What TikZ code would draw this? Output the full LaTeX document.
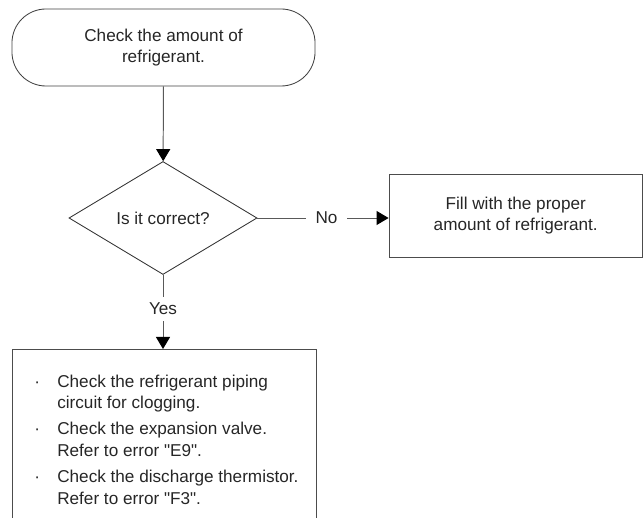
\documentclass[tikz,border=0pt]{standalone}
\usepackage{fontspec}
\setmainfont{Liberation Sans}[Ligatures=TeXOff]
\usetikzlibrary{shapes.geometric,arrows.meta}
\tikzset{
  termNode/.style={rectangle,rounded corners=0.85cm,draw=black!75,line width=0.6pt,minimum width=7.575cm,minimum height=1.925cm,align=center},
  decisionNode/.style={diamond,draw=black!80,line width=0.6pt,minimum width=4.7cm,minimum height=2.825cm,inner sep=0pt,aspect=1.66},
  boxNode/.style={rectangle,draw=black!70,line width=0.6pt,align=center},
  lbl/.style={inner xsep=0.24cm,inner ysep=0.15cm},
  flow/.style={draw=black!65,line width=0.7pt},
  flowArrow/.style={flow,-{Triangle[length=0.3cm,width=0.35cm,color=black]}}
}
\begin{document}
\begin{tikzpicture}[x=0.025cm,y=-0.025cm,font=\fontsize{12.2}{14.6}\selectfont,text=black!85]
  \useasboundingbox (0,0) rectangle (644,518);
  \clip (0,0) rectangle (644,518);
  \node[termNode] (start) at (163.5,47.5) {Check the amount of\\refrigerant.};
  \node[decisionNode] (check) at (163,218) {Is it correct?};
  \node[boxNode,minimum width=6.3375cm,minimum height=2.075cm] (fill) at (515.75,215.5) {Fill with the proper\\amount of refrigerant.};
  \node[boxNode,anchor=north,minimum width=7.6cm,minimum height=5cm] (list) at (164,349) {};
  \node[anchor=base west,inner sep=0pt,font=\fontsize{12.2}{15.6}\selectfont] (items) at (34,387) {%
    \begin{tabular}[t]{@{}p{0.575cm}@{}l@{}}
      · & Check the refrigerant piping\\
        & circuit for clogging.\\[2.8pt]
      · & Check the expansion valve.\\
        & Refer to error "E9".\\[2.8pt]
      · & Check the discharge thermistor.\\
        & Refer to error "F3".
    \end{tabular}};
  \node[lbl] (no) at (326.5,218) {No};
  \node[lbl] (yes) at (163,309) {Yes};
  \draw[flowArrow] (start) -- (check);
  \draw[flow] (check) -- (no);
  \draw[flowArrow] (no) -- (no -| fill.west);
  \draw[flow] (check) -- (yes);
  \draw[flowArrow] (yes) -- (yes |- list.north);
\end{tikzpicture}
\end{document}
